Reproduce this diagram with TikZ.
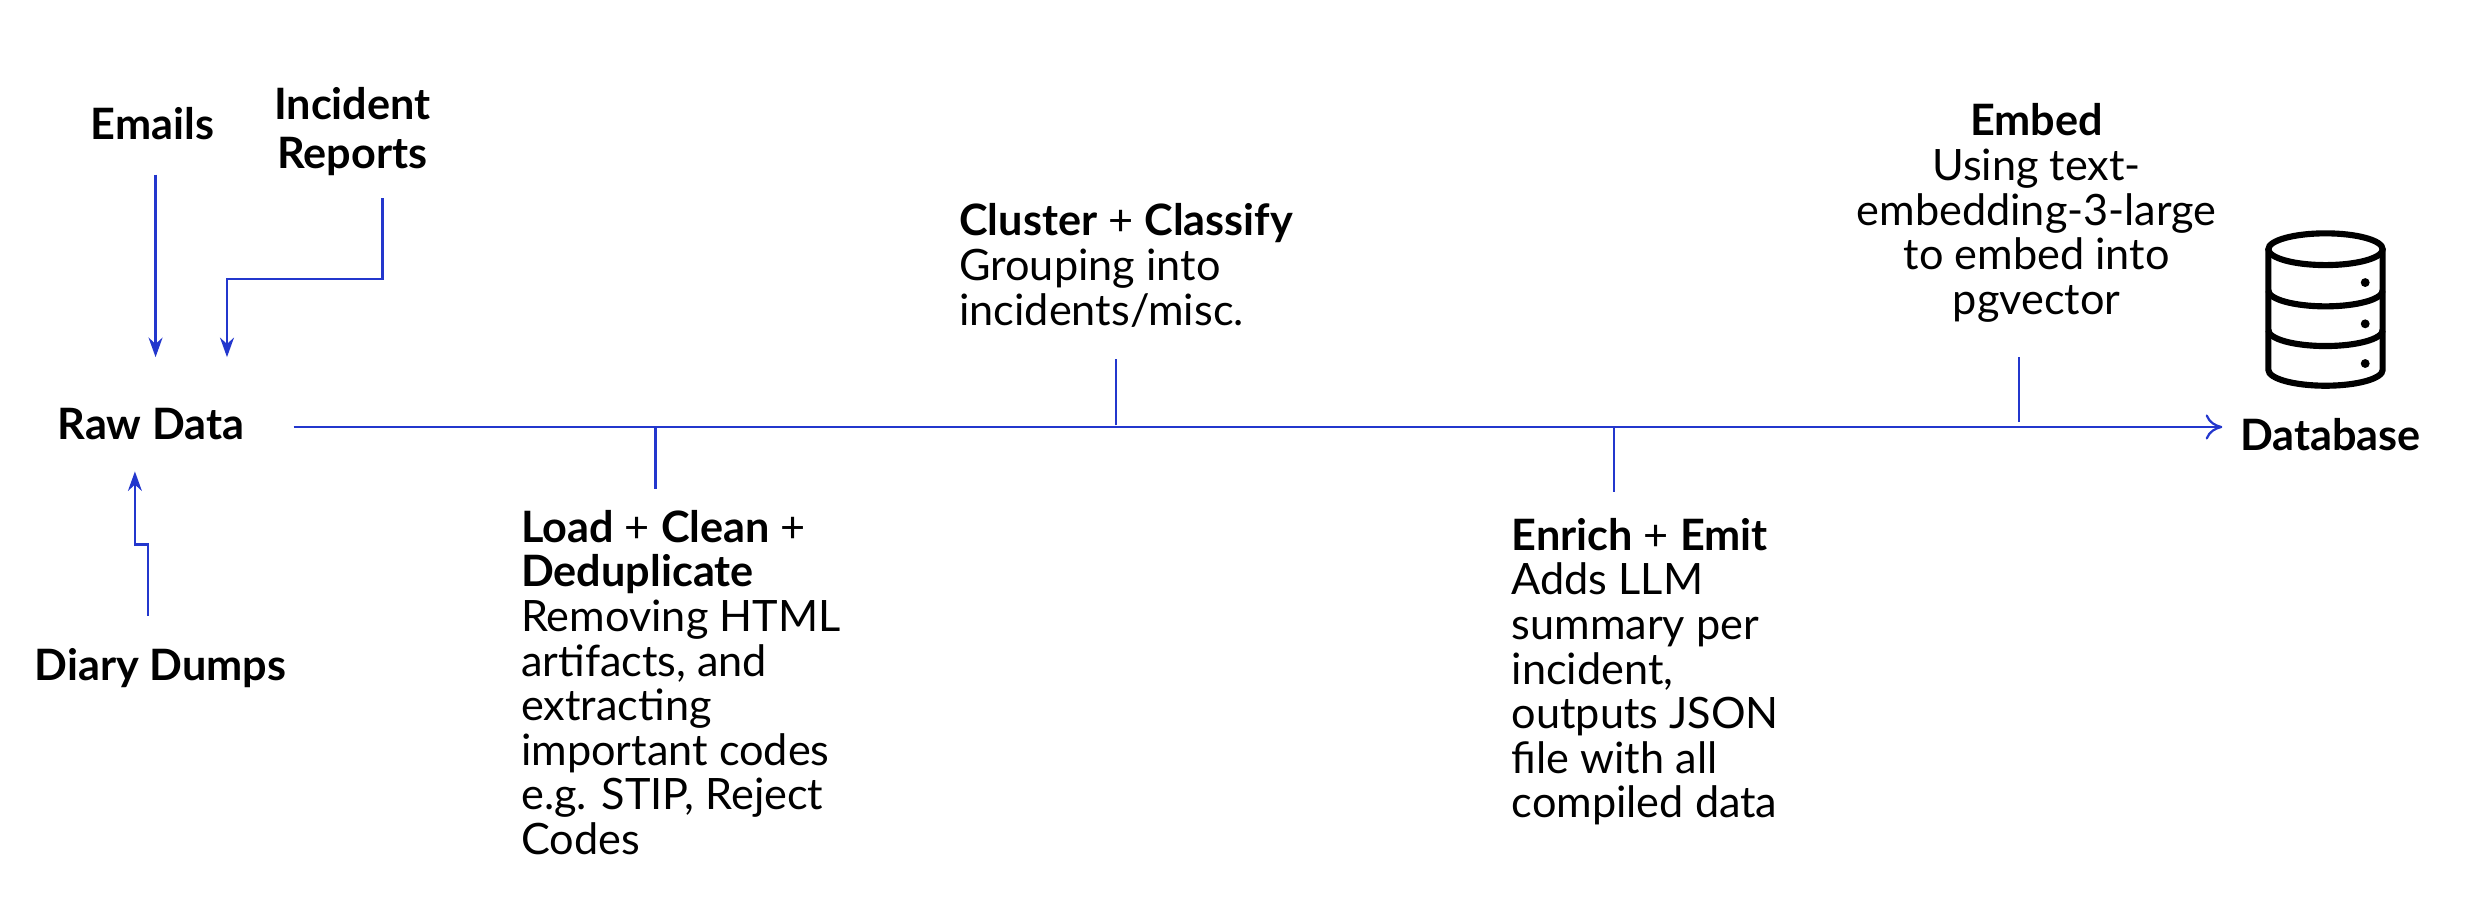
\documentclass[tikz,border=0pt]{standalone}
\usepackage{fontspec}
\setmainfont{Lato}
\usetikzlibrary{arrows.meta}
\definecolor{flow}{RGB}{35,55,205}
\begin{document}
\begin{tikzpicture}[x=0.02cm,y=-0.02cm,
  lbl/.style={font=\fontsize{15.5}{15.5}\selectfont\bfseries,align=center},
  desc/.style={font=\fontsize{15.5}{16}\selectfont,align=left,anchor=north west,inner sep=0pt},
  wire/.style={draw=flow,line width=0.8pt},
  arr/.style={wire,-{Stealth[length=7pt,width=5pt]}},
  tip/.style={wire,-{To[length=6pt,width=9pt]}}]
\useasboundingbox (0,0) rectangle (1568,570);
\node[lbl] (emails) at (96,78) {Emails};
\node[lbl] (incident) at (222,83) {Incident\\[2pt]Reports};
\node[lbl] (raw) at (95,267) {Raw Data};
\node[lbl] (diary) at (101,421) {Diary Dumps};
\node[lbl] (db) at (1468,274) {Database};
\coordinate (e1) at (98,110); \coordinate (e2) at (98,225);
\draw[arr] (e1) -- (e2);
\coordinate (i1) at (241,125); \coordinate (i2) at (143,225);
\draw[arr] (i1) |- (143,176) -- (i2);
\coordinate (d1) at (93,388); \coordinate (d2) at (85,297);
\draw[arr] (d1) -- (93,343) -| (d2);
\coordinate (m1) at (185,269); \coordinate (m2) at (1400,269);
\draw[tip] (m1) -- (m2);
\coordinate (t1) at (413,269); \coordinate (t1b) at (413,308); \draw[wire] (t1) -- (t1b);
\coordinate (t2) at (703,268); \coordinate (t2b) at (703,226); \draw[wire] (t2) -- (t2b);
\coordinate (t3) at (1017,269); \coordinate (t3b) at (1017,310); \draw[wire] (t3) -- (t3b);
\coordinate (t4) at (1272,266); \coordinate (t4b) at (1272,225); \draw[wire] (t4) -- (t4b);
\node[desc] (load) at (328,321) {\textbf{Load} + \textbf{Clean} +\\\textbf{Deduplicate}\\Removing HTML\\artifacts, and\\extracting\\important codes\\e.g. STIP, Reject\\Codes};
\node[desc] (cluster) at (604,128) {\textbf{Cluster} + \textbf{Classify}\\Grouping into\\incidents/misc.};
\node[desc] (enrich) at (952,326) {\textbf{Enrich} + \textbf{Emit}\\Adds LLM\\summary per\\incident,\\outputs JSON\\file with all\\compiled data};
\node[desc,align=center,anchor=north] (embed) at (1283,65) {\textbf{Embed}\\Using text-\\embedding-3-large\\to embed into\\pgvector};
% database icon
\begin{scope}[line width=2.2pt]
\draw (1429,157) -- (1429,233) arc[start angle=180,end angle=0,x radius=36,y radius=10] -- (1501,157);
\draw (1465,157) ellipse[x radius=36,y radius=10];
\draw (1429,183) arc[start angle=180,end angle=0,x radius=36,y radius=10];
\draw (1429,208) arc[start angle=180,end angle=0,x radius=36,y radius=10];
\fill (1490,178) circle (2.8); \fill (1490,204) circle (2.8); \fill (1490,229) circle (2.8);
\end{scope}
\end{tikzpicture}
\end{document}
